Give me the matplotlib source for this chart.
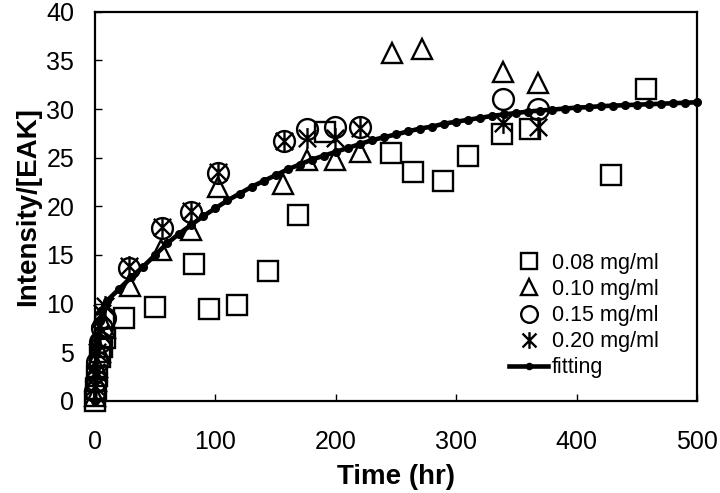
import numpy as np
import matplotlib
matplotlib.use("Agg")
import matplotlib.pyplot as plt
from matplotlib.path import Path

plt.rcParams['font.family'] = ['Liberation Sans', 'DejaVu Sans']

# 0.08 mg/ml
t_08 = [0, 1, 2, 4, 6, 8, 24, 50, 82, 95, 118, 144, 169, 191, 246, 264, 289, 310, 338, 361, 429, 458]
y_08 = [0, 1.2, 2.5, 4.5, 5.5, 6.5, 8.5, 9.6, 14.1, 9.4, 9.9, 13.4, 19.1, 27.6, 25.5, 23.5, 22.6, 25.2, 27.4, 27.9, 23.2, 32.1]
# 0.10 mg/ml
t_10 = [0, 1, 2, 4, 6, 8, 29, 55, 80, 102, 156, 176, 199, 220, 247, 272, 339, 368]
y_10 = [0.5, 2, 3.5, 5, 6.5, 7.5, 11.8, 15.5, 17.6, 22.0, 22.3, 24.8, 24.8, 25.6, 35.8, 36.2, 33.8, 32.7]
# 0.15 mg/ml
t_15 = [0, 1, 2, 4, 6, 8, 28, 56, 80, 102, 157, 176, 199, 220, 339, 368]
y_15 = [1, 2, 4, 6, 7.5, 8.5, 13.7, 17.8, 19.4, 23.4, 26.7, 27.9, 28.2, 28.2, 31.0, 30.0]
# 0.20 mg/ml
t_20 = [0, 1, 2, 4, 6, 8, 28, 56, 80, 102, 157, 176, 199, 220, 339, 368]
y_20 = [1.5, 3, 5, 7, 9, 9.8, 13.9, 17.9, 19.5, 23.5, 26.7, 27.0, 27.0, 28.1, 28.6, 28.2]

# fitting curve
t_fit = [0, 1, 2, 4, 6, 8, 10, 20, 30, 40, 50, 60, 70, 80, 90, 100,
         110, 120, 130, 140, 150, 160, 170, 180, 190, 200,
         210, 220, 230, 240, 250, 260, 270, 280, 290, 300,
         310, 320, 330, 340, 350, 360, 370, 380, 390, 400,
         410, 420, 430, 440, 450, 460, 470, 480, 490, 500]
y_fit = [0, 3.0, 5.5, 8.2, 9.3, 9.9, 10.3, 11.5, 12.7, 13.8, 15.0, 16.2, 17.2, 18.1, 19.0, 19.8,
         20.6, 21.3, 22.0, 22.6, 23.2, 23.8, 24.3, 24.8, 25.2, 25.6,
         26.0, 26.4, 26.8, 27.1, 27.4, 27.7, 28.0, 28.2, 28.5, 28.7,
         28.9, 29.1, 29.3, 29.45, 29.6, 29.75, 29.85, 29.95, 30.05, 30.15,
         30.2, 30.3, 30.35, 30.4, 30.45, 30.5, 30.55, 30.6, 30.65, 30.7]

labels = ['0.08 mg/ml', '0.10 mg/ml', '0.15 mg/ml', '0.20 mg/ml', 'fitting']

# excel-like star: X plus a vertical bar
star = Path([(-1, -1), (1, 1), (-1, 1), (1, -1), (0, -1.2), (0, 1.2)],
            [Path.MOVETO, Path.LINETO, Path.MOVETO, Path.LINETO, Path.MOVETO, Path.LINETO])

fig = plt.figure(figsize=(7.2, 4.93), dpi=100)
ax = fig.add_axes([0.132, 0.187, 0.836, 0.789])

mk = dict(linestyle='none', markerfacecolor='none', markeredgecolor='black',
          markeredgewidth=1.7, markersize=15, clip_on=False)
ax.plot(t_08, y_08, marker='s', label=labels[0], **mk)
ax.plot(t_10, y_10, marker='^', label=labels[1], **mk)
ax.plot(t_15, y_15, marker='o', label=labels[2], **mk)
ax.plot(t_20, y_20, marker=star, label=labels[3], **mk)
ax.plot(t_fit, y_fit, color='black', lw=3.3, marker='o', markersize=5.5,
        markerfacecolor='black', label=labels[4], clip_on=False)

ax.set_xlim(0, 500)
ax.set_ylim(0, 40)
ax.set_xticks(np.arange(0, 501, 100))
ax.set_yticks(np.arange(0, 41, 5))
ax.tick_params(axis='both', direction='in', length=5, width=1, labelsize=18)
ax.tick_params(axis='x', pad=21)
ax.tick_params(axis='y', pad=15)
for s in ax.spines.values():
    s.set_linewidth(1.6)

ax.set_xlabel('Time (hr)', fontsize=20, fontweight='bold', labelpad=7)
ax.set_ylabel('Intensity/[EAK]', fontsize=20, fontweight='bold', labelpad=4)

ax.legend(loc='lower right', bbox_to_anchor=(0.955, 0.03), frameon=False,
          fontsize=15.5, markerscale=0.8, handlelength=1.8, handletextpad=0.2,
          labelspacing=0.24, borderpad=0)

fig.savefig('out.png', dpi=100)
